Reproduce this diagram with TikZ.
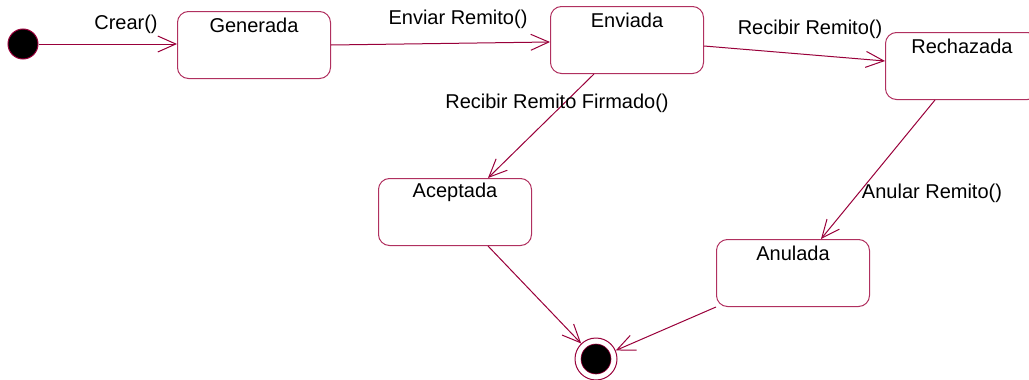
\documentclass[tikz,border=0pt]{standalone}
\usepackage{fontspec}
\setmainfont{Liberation Sans}
\usetikzlibrary{arrows.meta,calc}
\definecolor{linecol}{RGB}{153,0,58}
\definecolor{boxcol}{RGB}{176,48,95}
\begin{document}
\begin{tikzpicture}[x=1pt,y=-1pt,
  statebox/.style={draw=boxcol,line width=1pt,rounded corners=11pt,minimum width=153pt,minimum height=67pt,inner sep=0pt,anchor=north west},
  statetext/.style={font=\fontsize{20}{23}\selectfont,inner sep=0pt},
  lbl/.style={font=\fontsize{20}{23}\selectfont,inner sep=0pt},
  trans/.style={draw=linecol,line width=1pt,-{Straight Barb[length=18pt,width=16pt,line width=1pt]}}]
\useasboundingbox (0,0) rectangle (1029,380);
\clip (0,0) rectangle (1029,380);
% initial and final
\node[circle,fill=black,draw=linecol,line width=1pt,minimum size=30pt,inner sep=0pt] (init) at (23,44) {};
\node[circle,draw=linecol,line width=1pt,minimum size=42pt,inner sep=0pt] (fin) at (596,359) {};
\node[circle,fill=black,draw=linecol,line width=0.6pt,minimum size=30pt,inner sep=0pt] (finin) at (596,359) {};
% states
\node[statebox] (gen) at (177,11) {};
\node[statebox] (env) at (550,6) {};
\node[statebox] (rec) at (885,32) {};
\node[statebox] (ace) at (378,178) {};
\node[statebox] (anu) at (716,239) {};
\node[statetext] (tgen) at ($(gen.north)+(0,14)$) {Generada};
\node[statetext] (tenv) at ($(env.north)+(0,14)$) {Enviada};
\node[statetext] (trec) at ($(rec.north)+(0,14)$) {Rechazada};
\node[statetext] (tace) at ($(ace.north)+(0,14)$) {Aceptada};
\node[statetext] (tanu) at ($(anu.north)+(0,14)$) {Anulada};
% transitions
\draw[trans] (init) -- (gen.west |- init);
\draw[trans] (gen.east) -- ($(env.west)+(0,2)$);
\draw[trans] ($(env.east)+(0,6)$) -- ($(rec.west)+(0,-5)$);
\draw[trans] ($(env.south)+(-33,0)$) -- ($(ace.north)+(33,0)$);
\draw[trans] ($(rec.south)+(-27,0)$) -- ($(anu.north)+(28,0)$);
\draw[trans] ($(ace.south)+(33,0)$) -- (fin);
\draw[trans] (anu.south west) -- (fin);
% labels
\node[lbl] (lcrear) at (126,24) {Crear()};
\node[lbl] (lenv) at (458,19) {Enviar Remito()};
\node[lbl] (lrec) at (810,29) {Recibir Remito()};
\node[lbl] (lfirm) at (557,103) {Recibir Remito Firmado()};
\node[lbl] (lanu) at (932,193) {Anular Remito()};
\end{tikzpicture}
\end{document}
